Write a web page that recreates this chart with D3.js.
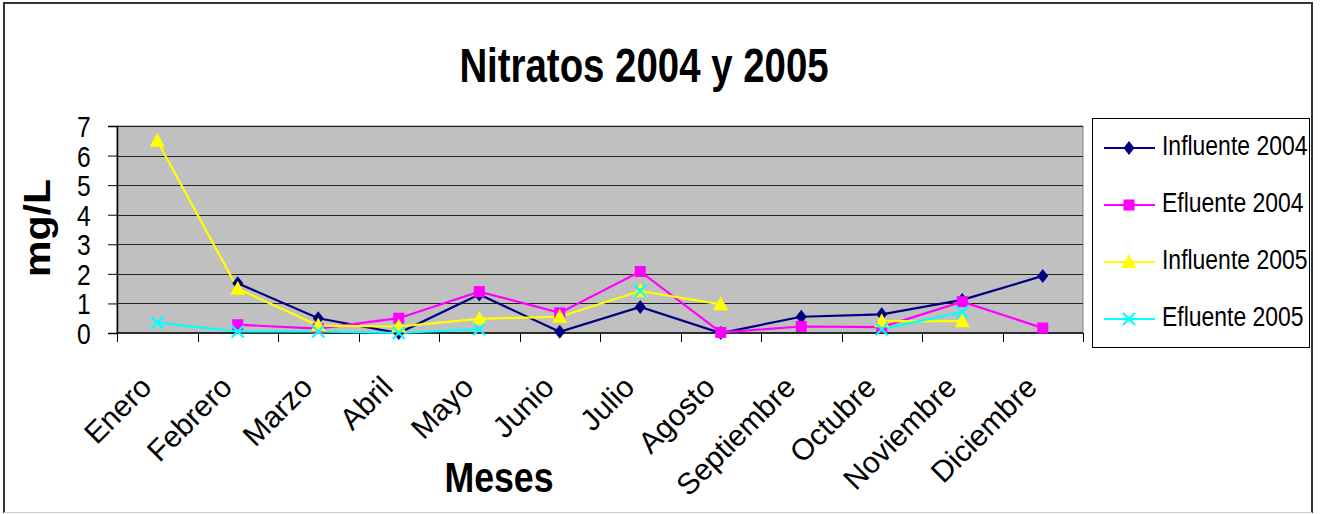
<!DOCTYPE html>
<html>
<head>
<meta charset="utf-8">
<script src="https://cdn.jsdelivr.net/npm/d3@7"></script>
<style>
  body { margin: 0; background: #fff; }
  text { font-family: "Liberation Sans", Arial, sans-serif; fill: #000; }
</style>
</head>
<body>
<svg id="chart" width="1323" height="514"></svg>
<script>
var months = ['Enero', 'Febrero', 'Marzo', 'Abril', 'Mayo', 'Junio', 'Julio',
              'Agosto', 'Septiembre', 'Octubre', 'Noviembre', 'Diciembre'];

var influente2004 = [null, 1.68, 0.5, 0.0, 1.3, 0.04, 0.88, 0.0, 0.55, 0.63, 1.12, 1.93];
var efluente2004  = [null, 0.28, 0.15, 0.5, 1.4, 0.68, 2.08, 0.02, 0.22, 0.2, 1.06, 0.17];
var influente2005 = [6.5, 1.5, 0.25, 0.22, 0.48, 0.55, 1.42, 0.97, null, 0.4, 0.4, null];
var efluente2005  = [0.35, 0.05, 0.05, 0.0, 0.13, null, 1.42, null, null, 0.13, 0.71, null];

var yTicks = [0, 1, 2, 3, 4, 5, 6, 7];

var series = [
  { name: 'Influente 2004', values: influente2004, color: '#000080', marker: 'diamond' },
  { name: 'Efluente 2004',  values: efluente2004,  color: '#ff00ff', marker: 'square' },
  { name: 'Influente 2005', values: influente2005, color: '#ffff00', marker: 'triangle' },
  { name: 'Efluente 2005',  values: efluente2005,  color: '#00ffff', marker: 'cross' }
];

var svg = d3.select('#chart');

var plot = { left: 117, right: 1083, top: 126, bottom: 333 };

var x = d3.scaleBand().domain(months).range([plot.left, plot.right]);
var y = d3.scaleLinear().domain([0, 7]).range([plot.bottom, plot.top]);

// outer frame
svg.append('path')
  .attr('d', 'M4,513 L4,3 L1312,3 L1312,513')
  .attr('fill', 'none').attr('stroke', '#333').attr('stroke-width', 2);
svg.append('line')
  .attr('x1', 4).attr('x2', 1312).attr('y1', 512.5).attr('y2', 512.5)
  .attr('stroke', '#ccc').attr('stroke-width', 1);

// plot background
svg.append('rect')
  .attr('x', plot.left).attr('y', plot.top)
  .attr('width', plot.right - plot.left).attr('height', plot.bottom - plot.top)
  .attr('fill', '#c0c0c0').attr('stroke', '#808080').attr('stroke-width', 1);

// gridlines
svg.append('g').selectAll('line')
  .data(yTicks.filter(function(d) { return d > 0; }))
  .enter().append('line')
  .attr('x1', plot.left).attr('x2', plot.right)
  .attr('y1', function(d) { return Math.round(y(d)) + 0.5; })
  .attr('y2', function(d) { return Math.round(y(d)) + 0.5; })
  .attr('stroke', '#222').attr('stroke-width', 1);

// y axis
var yAxis = d3.axisLeft(y).tickValues(yTicks).tickSize(9).tickFormat(d3.format('d'));
var gy = svg.append('g').attr('transform', 'translate(' + plot.left + ',0)').call(yAxis);
gy.select('.domain').attr('stroke', '#000').attr('stroke-width', 1.5);
gy.selectAll('.tick line').attr('stroke', '#000');
gy.selectAll('.tick text')
  .attr('x', -31).attr('dy', '0.36em')
  .style('font-size', '29px')
  .attr('transform', 'scale(0.85,1)');

// x axis: ticks at category boundaries
var gx = svg.append('g').attr('transform', 'translate(0,' + plot.bottom + ')');
gx.append('line')
  .attr('x1', plot.left).attr('x2', plot.right).attr('y1', 0).attr('y2', 0)
  .attr('stroke', '#000').attr('stroke-width', 1.5);
var bounds = months.map(function(m) { return x(m); }).concat([plot.right]);
gx.selectAll('.xt').data(bounds).enter().append('line')
  .attr('x1', function(d) { return Math.round(d) + 0.5; })
  .attr('x2', function(d) { return Math.round(d) + 0.5; })
  .attr('y1', 0).attr('y2', 9)
  .attr('stroke', '#000');

gx.selectAll('.xl').data(months).enter().append('text')
  .attr('transform', function(d) {
    return 'translate(' + (x(d) + x.bandwidth() / 2 - 4) + ',56) rotate(-45)';
  })
  .attr('text-anchor', 'end')
  .style('font-size', '30px')
  .text(function(d) { return d; });

// series lines
var cx = function(i) { return x(months[i]) + x.bandwidth() / 2; };
var line = d3.line()
  .defined(function(d) { return d != null; })
  .x(function(d, i) { return cx(i); })
  .y(function(d) { return y(d); });

series.forEach(function(s) {
  svg.append('path')
    .attr('d', line(s.values))
    .attr('fill', 'none')
    .attr('stroke', s.color)
    .attr('stroke-width', 2.2);
});

function drawMarker(g, type, px, py, color) {
  if (type === 'diamond') {
    g.append('path')
      .attr('d', 'M' + px + ',' + (py - 7) + 'L' + (px + 5.5) + ',' + py +
                 'L' + px + ',' + (py + 7) + 'L' + (px - 5.5) + ',' + py + 'Z')
      .attr('fill', color);
  } else if (type === 'square') {
    g.append('rect')
      .attr('x', px - 5.5).attr('y', py - 5.5).attr('width', 11).attr('height', 11)
      .attr('fill', color);
  } else if (type === 'triangle') {
    g.append('path')
      .attr('d', 'M' + px + ',' + (py - 8) + 'L' + (px + 7.5) + ',' + (py + 6) +
                 'L' + (px - 7.5) + ',' + (py + 6) + 'Z')
      .attr('fill', color);
  } else {
    g.append('path')
      .attr('d', 'M' + (px - 6) + ',' + (py - 6) + 'L' + (px + 6) + ',' + (py + 6) +
                 'M' + (px - 6) + ',' + (py + 6) + 'L' + (px + 6) + ',' + (py - 6))
      .attr('stroke', color).attr('stroke-width', 2.2).attr('fill', 'none');
  }
}

series.forEach(function(s) {
  var g = svg.append('g');
  s.values.forEach(function(v, i) {
    if (v == null) return;
    drawMarker(g, s.marker, cx(i), y(v), s.color);
  });
});

// title and axis titles
svg.append('text')
  .attr('transform', 'translate(644,82) scale(0.8,1)')
  .attr('text-anchor', 'middle')
  .style('font-size', '48px').style('font-weight', 'bold')
  .text('Nitratos 2004 y 2005');

svg.append('text')
  .attr('transform', 'translate(499,492) scale(0.85,1)')
  .attr('text-anchor', 'middle')
  .style('font-size', '42px').style('font-weight', 'bold')
  .text('Meses');

svg.append('text')
  .attr('transform', 'translate(50,228) scale(0.9,1) rotate(-90)')
  .attr('text-anchor', 'middle')
  .style('font-size', '41px').style('font-weight', 'bold')
  .text('mg/L');

// legend
var legend = svg.append('g');
legend.append('rect')
  .attr('x', 1092.5).attr('y', 118.5).attr('width', 217).attr('height', 229)
  .attr('fill', '#fff').attr('stroke', '#000').attr('stroke-width', 1);

series.forEach(function(s, i) {
  var ly = 148 + i * 57;
  legend.append('line')
    .attr('x1', 1104).attr('x2', 1155).attr('y1', ly).attr('y2', ly)
    .attr('stroke', s.color).attr('stroke-width', 2.2);
  drawMarker(legend, s.marker, 1129, ly, s.color);
  legend.append('text')
    .attr('transform', 'translate(1162,' + (ly + 7) + ') scale(0.85,1)')
    .style('font-size', '27px')
    .text(s.name);
});
</script>
</body>
</html>
